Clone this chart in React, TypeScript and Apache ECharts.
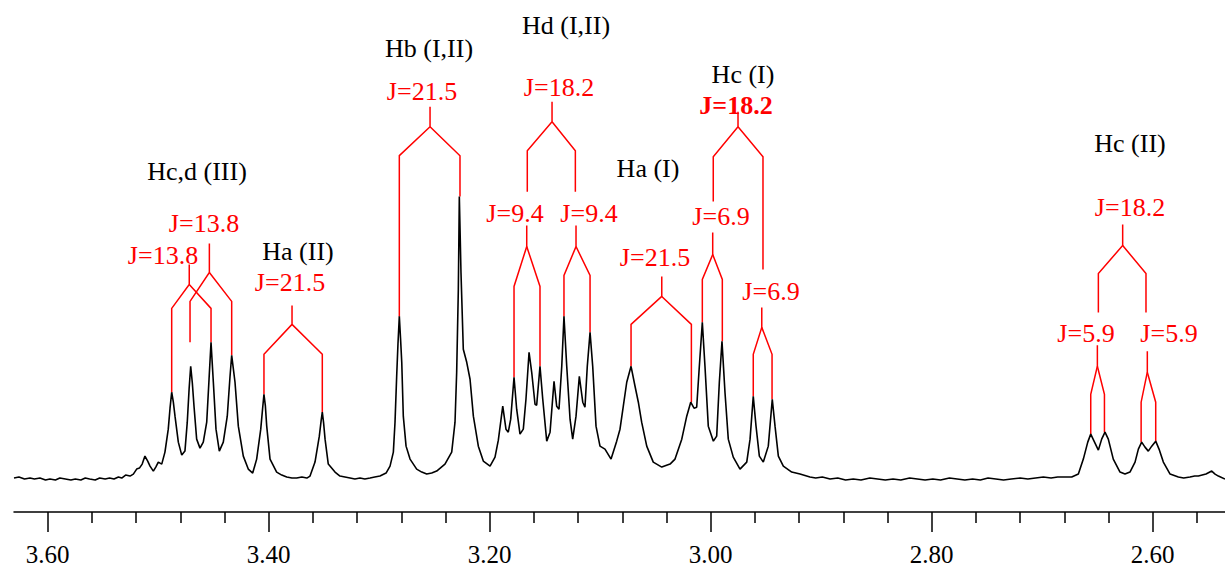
import React, { useEffect, useRef } from "react";
import * as echarts from "echarts";

// Spectrum trace: [chemical shift (ppm), intensity]
const spectrum: [number, number][] = [
  [3.6305, 0], [3.626, 1], [3.621, -1], [3.616, 0], [3.612, -1], [3.607, 0], [3.602, -2],
  [3.598, -1], [3.593, -2], [3.589, 0], [3.584, -1], [3.579, -2], [3.575, -1], [3.57, -2],
  [3.566, 0], [3.562, -1], [3.557, -2], [3.553, 0], [3.548, -1], [3.544, 0], [3.54, -1],
  [3.536, 1], [3.533, 0], [3.5295, 3], [3.5255, 2], [3.5225, 4], [3.5195, 9], [3.517, 10],
  [3.5145, 14], [3.512, 22], [3.5095, 17], [3.5074, 12], [3.5044, 7], [3.5022, 11],
  [3.4999, 16], [3.4968, 14], [3.4939, 26], [3.4909, 49], [3.4893, 70], [3.4878, 86],
  [3.4863, 76], [3.4848, 62], [3.4818, 36], [3.4787, 23], [3.4758, 27], [3.4737, 56],
  [3.472, 90], [3.4706, 112], [3.4691, 95], [3.4676, 72], [3.4652, 39], [3.4622, 30],
  [3.4592, 36], [3.4561, 56], [3.454, 99], [3.4522, 136], [3.4501, 96], [3.4477, 49],
  [3.4447, 27], [3.4411, 36], [3.4375, 62], [3.435, 102], [3.4335, 123], [3.4305, 96],
  [3.4275, 52], [3.423, 22], [3.4185, 9], [3.4145, 5], [3.4109, 19], [3.4072, 49],
  [3.4055, 70], [3.4043, 84], [3.403, 72], [3.4018, 52], [3.3988, 19], [3.3928, 6],
  [3.3882, 3], [3.3837, 1], [3.379, 0], [3.3747, 0], [3.37, 1], [3.3655, 0], [3.3626, 2],
  [3.3581, 16], [3.3542, 42], [3.3525, 58], [3.3515, 66], [3.3503, 55], [3.349, 39],
  [3.3461, 14], [3.34, 6], [3.3355, 2], [3.331, 1], [3.3264, 0], [3.322, -1], [3.3174, 0],
  [3.313, -1], [3.3083, 0], [3.304, 1], [3.2993, 2], [3.2938, 5], [3.2902, 12], [3.2872, 26],
  [3.2857, 56], [3.2842, 102], [3.283, 135], [3.2818, 162], [3.2807, 140], [3.2796, 116],
  [3.2782, 62], [3.2757, 32], [3.2721, 19], [3.2661, 9], [3.2615, 6], [3.257, 4], [3.2525, 5],
  [3.248, 7], [3.2405, 14], [3.2344, 26], [3.2314, 56], [3.2299, 106], [3.2284, 189],
  [3.2275, 282], [3.226, 206], [3.2239, 129], [3.2208, 116], [3.2178, 99], [3.2148, 62],
  [3.2103, 32], [3.2058, 17], [3.1997, 12], [3.1952, 21], [3.1922, 38], [3.1882, 72],
  [3.1853, 49], [3.1832, 46], [3.181, 59], [3.178, 101], [3.1756, 69], [3.1726, 44],
  [3.1696, 49], [3.1672, 79], [3.1644, 126], [3.162, 106], [3.159, 74], [3.1575, 73],
  [3.1545, 112], [3.152, 79], [3.1484, 37], [3.1454, 46], [3.1418, 97], [3.1394, 72],
  [3.1373, 69], [3.1348, 112], [3.1328, 162], [3.1303, 112], [3.1273, 59], [3.1249, 39],
  [3.1219, 62], [3.1189, 102], [3.1158, 76], [3.1138, 71], [3.1117, 112], [3.1092, 146],
  [3.1068, 112], [3.1038, 52], [3.1002, 32], [3.0957, 29], [3.0902, 19], [3.0851, 37],
  [3.0821, 49], [3.0791, 72], [3.076, 96], [3.0721, 112], [3.0685, 92], [3.0655, 76],
  [3.0625, 56], [3.0579, 32], [3.052, 16], [3.0443, 11], [3.0368, 14], [3.0323, 19],
  [3.0262, 39], [3.0217, 62], [3.0181, 76], [3.0151, 70], [3.0127, 71], [3.0103, 112],
  [3.0076, 156], [3.0052, 112], [3.0022, 52], [2.9976, 37], [2.9946, 42], [2.9922, 96],
  [2.9898, 137], [2.9871, 86], [2.9841, 39], [2.9796, 21], [2.9735, 9], [2.9674, 16],
  [2.9644, 39], [2.9615, 82], [2.959, 52], [2.956, 22], [2.9524, 16], [2.9479, 32],
  [2.9443, 79], [2.9418, 52], [2.9388, 22], [2.9343, 12], [2.9267, 6], [2.9192, 4],
  [2.9102, 1], [2.905, 0], [2.899, 1], [2.892, -1], [2.885, 0], [2.878, -2], [2.871, -1],
  [2.864, -2], [2.856, 0], [2.849, -1], [2.842, -2], [2.835, -1], [2.828, -2], [2.82, 0],
  [2.813, -1], [2.806, -2], [2.799, -1], [2.792, -2], [2.784, 0], [2.777, -1], [2.77, -2],
  [2.763, -1], [2.756, -2], [2.749, 0], [2.742, -1], [2.735, -2], [2.728, -1], [2.72, 0],
  [2.713, -1], [2.706, 0], [2.699, 1], [2.692, 0], [2.686, 1], [2.6733, 1], [2.6673, 4],
  [2.6628, 19], [2.6588, 36], [2.6561, 44], [2.6531, 37], [2.6492, 28], [2.6462, 39],
  [2.6432, 46], [2.6402, 39], [2.6357, 19], [2.6296, 6], [2.6251, 4], [2.6206, 6],
  [2.616, 16], [2.613, 29], [2.61, 36], [2.607, 31], [2.604, 27], [2.6009, 32], [2.5973, 37],
  [2.5943, 29], [2.5904, 16], [2.5843, 4], [2.5768, 1], [2.572, 0], [2.5663, 1], [2.562, 2],
  [2.5587, 2], [2.5518, 4], [2.5466, 7], [2.5436, 4], [2.5406, 2], [2.5346, -1],
];

// Axis
const axisMin = 2.5346;
const axisMax = 3.6305;
const majorTicks = [2.6, 2.8, 3.0, 3.2, 3.4, 3.6];
const minorTicks = [
  2.56, 2.64, 2.68, 2.72, 2.76, 2.84, 2.88, 2.92, 2.96, 3.04, 3.08, 3.12, 3.16, 3.24, 3.28,
  3.32, 3.36, 3.44, 3.48, 3.52, 3.56,
];

// Splitting trees: [stem ppm, stem top, fork, left ppm, right ppm, branch level, left end, right end]
const trees: number[][] = [
  [3.4719, 214, 194, 3.4878, 3.4522, 170, 86, 136],
  [3.4537, 235, 206, 3.4712, 3.4335, 177, 136, 123],
  [3.3789, 173, 154, 3.4043, 3.3515, 124, 84, 66],
  [3.254, 372, 352, 3.2818, 3.2269, 323, 162, 282],
  [3.1436, 377, 357, 3.166, 3.1225, 328, 287, 287],
  [3.1665, 253, 232, 3.178, 3.1545, 192, 101, 112],
  [3.1219, 253, 232, 3.1328, 3.1092, 203, 162, 146],
  [3.0443, 202, 182, 3.0721, 3.0175, 154, 112, 76],
  [2.9753, 367, 352, 2.9977, 2.9527, 322, 277, 209],
  [2.9982, 246, 224, 3.0076, 2.9895, 199, 156, 137],
  [2.9538, 171, 151, 2.9615, 2.9445, 124, 82, 79],
  [2.6272, 254, 233, 2.6492, 2.6061, 205, 166, 166],
  [2.6501, 133, 112, 2.6561, 2.6437, 84, 44, 46],
  [2.6049, 127, 106, 2.6105, 2.5973, 76, 36, 37],
];

// Text annotations: [text, x, y]
const protonLabels: [string, number, number][] = [
  ["Hc,d (III)", 197, 171],
  ["Ha (II)", 298, 251],
  ["Hb (I,II)", 429, 48],
  ["Hd (I,II)", 566, 25],
  ["Ha (I)", 648, 168],
  ["Hc (I)", 743, 74],
  ["Hc (II)", 1130, 143],
];
const couplingLabels: [string, number, number, boolean][] = [
  ["J=13.8", 163, 255, false],
  ["J=13.8", 204, 223, false],
  ["J=21.5", 290, 282, false],
  ["J=21.5", 422, 91, false],
  ["J=18.2", 559, 87, false],
  ["J=9.4", 515, 213, false],
  ["J=9.4", 589, 213, false],
  ["J=21.5", 655, 257, false],
  ["J=18.2", 736, 105, true],
  ["J=6.9", 721, 216, false],
  ["J=6.9", 771, 291, false],
  ["J=18.2", 1130, 207, false],
  ["J=5.9", 1086, 333, false],
  ["J=5.9", 1169, 333, false],
];

const FONT = "Liberation Serif";
const RED = "#ff0000";

export default function App() {
  const ref = useRef<HTMLDivElement>(null);
  useEffect(() => {
    if (!ref.current) return;
    const chart = echarts.init(ref.current, undefined, { renderer: "svg" });

    const treeLines: any[] = [];
    trees.forEach(([sx, top, fork, lx, rx, br, le, re]) => {
      treeLines.push({ coords: [[sx, top], [sx, fork], [lx, br], [lx, le]] });
      treeLines.push({ coords: [[sx, fork], [rx, br], [rx, re]] });
    });

    const mkText = (t: string, x: number, y: number, fill: string, bold: boolean) => ({
      type: "text",
      x,
      y,
      silent: true,
      style: {
        text: t,
        fill,
        fontSize: 26,
        fontWeight: bold ? "bold" : "normal",
        fontFamily: FONT,
        textAlign: "center",
        textVerticalAlign: "middle",
      },
    });

    const graphics: any[] = [
      ...protonLabels.map(([t, x, y]) => mkText(t, x, y, "#000", false)),
      ...couplingLabels.map(([t, x, y, b]) => mkText(t, x, y, RED, b)),
    ];

    chart.setOption({
      animation: false,
      backgroundColor: "#ffffff",
      grid: { left: 14, right: 0, top: 0, bottom: 54 },
      xAxis: [
        {
          type: "value",
          inverse: true,
          min: axisMin,
          max: axisMax,
          position: "bottom",
          axisLine: { show: true, onZero: false, lineStyle: { color: "#000", width: 1.5 } },
          axisTick: {
            show: true,
            customValues: majorTicks,
            length: 20,
            lineStyle: { color: "#000", width: 1.5 },
          },
          axisLabel: {
            show: true,
            customValues: majorTicks,
            formatter: (v: number) => v.toFixed(2),
            color: "#000",
            fontSize: 25,
            fontFamily: FONT,
            margin: 30,
          },
          splitLine: { show: false },
        },
        {
          type: "value",
          inverse: true,
          min: axisMin,
          max: axisMax,
          position: "bottom",
          axisLine: { show: false, onZero: false },
          axisTick: {
            show: true,
            customValues: minorTicks,
            length: 11,
            lineStyle: { color: "#000", width: 1.5 },
          },
          axisLabel: { show: false },
          splitLine: { show: false },
        },
      ],
      yAxis: {
        type: "value",
        min: -34,
        max: 479,
        show: false,
        splitLine: { show: false },
      },
      series: [
        {
          type: "lines",
          coordinateSystem: "cartesian2d",
          polyline: true,
          silent: true,
          lineStyle: { color: RED, width: 1.5, opacity: 1 },
          data: treeLines,
        },
        {
          type: "line",
          data: spectrum,
          showSymbol: false,
          silent: true,
          lineStyle: { color: "#000", width: 1.6 },
          z: 3,
        },
      ],
      graphic: graphics,
    });
    return () => chart.dispose();
  }, []);
  return (
    <div
      ref={ref}
      style={{ position: "absolute", left: 0, top: 0, width: 1225, height: 567 }}
    />
  );
}
